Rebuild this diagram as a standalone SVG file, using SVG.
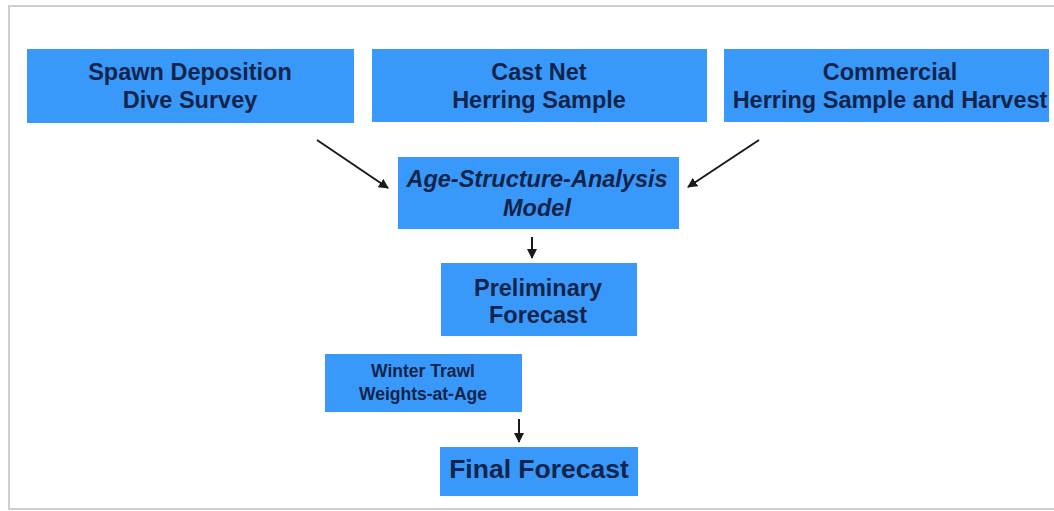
<svg xmlns="http://www.w3.org/2000/svg" width="1054" height="511" viewBox="0 0 1054 511">
<style>
.box{fill:#3899fb;}
.t{font-family:"Liberation Sans",Arial,sans-serif;font-weight:bold;fill:#13244a;text-anchor:middle;font-size:23.5px;}
.it{font-style:italic;}
.sm{font-size:17.5px;}
.lg{font-size:26.5px;}
.c{stroke:#1a1a1a;stroke-width:2;fill:none;marker-end:url(#ah);}
</style>
<defs>
<marker id="ah" viewBox="0 0 10 10" refX="9" refY="5" markerWidth="5" markerHeight="5" orient="auto" markerUnits="strokeWidth">
<path d="M0,0 L10,5 L0,10 z" fill="#1a1a1a"/>
</marker>
<clipPath id="frame"><rect x="9" y="6" width="1040" height="503"/></clipPath>
</defs>
<rect x="0" y="0" width="1054" height="511" fill="#ffffff"/>
<rect x="9" y="6" width="1046" height="503" fill="#ffffff" stroke="#cfcfcf" stroke-width="2"/>
<g clip-path="url(#frame)">
<g id="spawn">
<rect class="box" x="27" y="49" width="327" height="74"/>
<text class="t" x="190" y="80">Spawn Deposition</text>
<text class="t" x="190" y="108">Dive Survey</text>
</g>
<g id="castnet">
<rect class="box" x="372" y="49" width="335" height="73"/>
<text class="t" x="539" y="80">Cast Net</text>
<text class="t" x="539" y="108">Herring Sample</text>
</g>
<g id="commercial">
<rect class="box" x="724" y="49" width="330" height="73"/>
<text class="t" x="890" y="80">Commercial</text>
<text class="t" x="890" y="108">Herring Sample and Harvest</text>
</g>
<g id="asa">
<rect class="box" x="398" y="157" width="281" height="72"/>
<text class="t it" x="537" y="187">Age-Structure-Analysis</text>
<text class="t it" x="537" y="216">Model</text>
</g>
<g id="prelim">
<rect class="box" x="441" y="263" width="196" height="73"/>
<text class="t" x="538" y="296">Preliminary</text>
<text class="t" x="538" y="323">Forecast</text>
</g>
<g id="winter">
<rect class="box" x="325" y="354" width="197" height="58"/>
<text class="t sm" x="423" y="377">Winter Trawl</text>
<text class="t sm" x="423" y="400">Weights-at-Age</text>
</g>
<g id="final">
<rect class="box" x="440" y="447" width="198" height="49"/>
<text class="t lg" x="539" y="478">Final Forecast</text>
</g>
<g id="connectors">
<line class="c" x1="317" y1="140" x2="388" y2="188"/>
<line class="c" x1="759" y1="140" x2="688" y2="187"/>
<line class="c" x1="532" y1="237" x2="532" y2="258"/>
<line class="c" x1="519" y1="419" x2="519" y2="442"/>
</g>
</g>
</svg>
